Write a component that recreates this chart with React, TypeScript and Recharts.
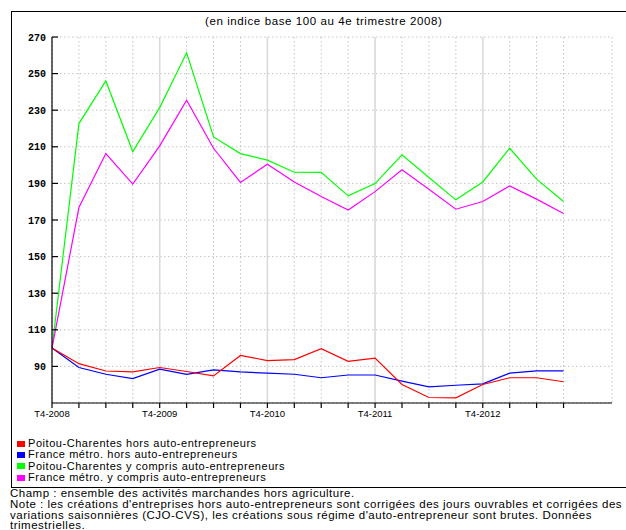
import React from 'react';
import {
  LineChart,
  Line,
  XAxis,
  YAxis,
  CartesianGrid,
  ReferenceLine,
} from 'recharts';

// trimestres T4-2008 .. T3-2013
const quarters = [
  'T4-2008', 'T1-2009', 'T2-2009', 'T3-2009',
  'T4-2009', 'T1-2010', 'T2-2010', 'T3-2010',
  'T4-2010', 'T1-2011', 'T2-2011', 'T3-2011',
  'T4-2011', 'T1-2012', 'T2-2012', 'T3-2012',
  'T4-2012', 'T1-2013', 'T2-2013', 'T3-2013',
];

const pcHors = [100, 91.5, 87.5, 87.0, 89.4, 87.2, 84.8, 96.0, 93.2, 93.7, 99.7, 92.8, 94.5, 80.1, 73.0, 72.8, 80.1, 83.8, 83.8, 81.6];
const frHors = [100, 89.4, 85.7, 83.3, 88.5, 85.7, 88.1, 87.0, 86.3, 85.7, 83.8, 85.3, 85.3, 82.0, 78.8, 79.7, 80.5, 86.3, 87.6, 87.6];
const pcAvec = [100, 222.7, 246.0, 207.4, 231.4, 261.4, 215.4, 206.3, 202.7, 196.1, 196.0, 183.2, 189.9, 205.6, 193.2, 181.0, 190.8, 209.2, 192.3, 180.1];
const frAvec = [100, 176.8, 206.3, 189.6, 210.5, 235.4, 209.2, 190.5, 200.5, 190.8, 182.8, 175.4, 185.5, 197.4, 186.8, 175.9, 180.1, 188.6, 181.4, 173.5];

const yTicks = [90, 110, 130, 150, 170, 190, 210, 230, 250, 270];
const yearTicks = [4, 8, 12, 16];

const seriesNames = [
  'Poitou-Charentes hors auto-entrepreneurs',
  'France métro. hors auto-entrepreneurs',
  'Poitou-Charentes y compris auto-entrepreneurs',
  'France métro. y compris auto-entrepreneurs',
];
const seriesColors = ['#ff0000', '#0000ff', '#00ff00', '#ff00ff'];

const data = quarters.map((q, i) => ({
  i,
  q,
  pcHors: pcHors[i],
  frHors: frHors[i],
  pcAvec: pcAvec[i],
  frAvec: frAvec[i],
}));

const PLOT_LEFT = 52;

const YTick = (props: any) => {
  const { y, payload } = props;
  return (
    <g>
      <line x1={PLOT_LEFT} x2={PLOT_LEFT + 6} y1={y} y2={y} stroke="#000" strokeWidth={1.2} />
      <text
        x={46}
        y={y}
        dy={3.5}
        textAnchor="end"
        fontFamily="'Liberation Mono', monospace"
        fontWeight="bold"
        fontSize={10}
        fill="#000"
      >
        {payload.value}
      </text>
    </g>
  );
};

const xLabel = (i: number) => (quarters[i] && quarters[i].startsWith('T4') ? quarters[i] : '');

const App: React.FC = () => {
  return (
    <div
      style={{
        position: 'absolute',
        left: 0,
        top: 0,
        width: 626,
        height: 530,
        overflow: 'hidden',
        background: '#fff',
        fontFamily: "'Liberation Sans', Arial, sans-serif",
        color: '#000',
      }}
    >
      <div
        style={{
          position: 'absolute',
          left: 11,
          top: 11,
          width: 640,
          height: 475,
          border: '1px solid #000',
        }}
      />
      <div
        style={{
          position: 'absolute',
          left: 205,
          top: 15,
          fontSize: 11.5,
          letterSpacing: 0.6,
          whiteSpace: 'nowrap',
        }}
      >
        (en indice base 100 au 4e trimestre 2008)
      </div>

      <div style={{ position: 'absolute', left: 0, top: 0 }}>
        <LineChart
          width={626}
          height={430}
          data={data}
          margin={{ top: 37, right: 14, bottom: 7, left: 12 }}
        >
          <CartesianGrid stroke="#c4c4c4" strokeDasharray="1.5 2.5" />
          {yearTicks.map((t) => (
            <ReferenceLine key={t} x={t} stroke="#dcdcdc" strokeWidth={1.6} />
          ))}
          <XAxis
            dataKey="i"
            type="number"
            domain={[0, 20.8]}
            ticks={quarters.map((_, i) => i)}
            interval={0}
            tickFormatter={xLabel}
            tickSize={5}
            tickMargin={2}
            height={20}
            axisLine={{ stroke: '#000', strokeWidth: 1.2 }}
            tickLine={{ stroke: '#000', strokeWidth: 1.2 }}
            tick={{ fontSize: 9.5, fill: '#000' }}
          />
          <YAxis
            type="number"
            domain={[70, 270]}
            ticks={yTicks}
            interval={0}
            width={40}
            axisLine={{ stroke: '#000', strokeWidth: 1.2 }}
            tickLine={false}
            tick={<YTick />}
          />
          <Line type="linear" dataKey="pcAvec" stroke={seriesColors[2]} strokeWidth={1.2} dot={false} isAnimationActive={false} />
          <Line type="linear" dataKey="frAvec" stroke={seriesColors[3]} strokeWidth={1.2} dot={false} isAnimationActive={false} />
          <Line type="linear" dataKey="frHors" stroke={seriesColors[1]} strokeWidth={1.2} dot={false} isAnimationActive={false} />
          <Line type="linear" dataKey="pcHors" stroke={seriesColors[0]} strokeWidth={1.2} dot={false} isAnimationActive={false} />
        </LineChart>
      </div>

      <div
        style={{
          position: 'absolute',
          left: 17,
          top: 438,
          fontSize: 11,
          letterSpacing: 0.55,
          lineHeight: '11.4px',
        }}
      >
        {seriesNames.map((name, k) => (
          <div key={name} style={{ display: 'flex', alignItems: 'center', whiteSpace: 'nowrap', height: 11.4 }}>
            <span
              style={{
                display: 'inline-block',
                width: 8,
                height: 6,
                background: seriesColors[k],
                marginRight: 3,
              }}
            />
            {name}
          </div>
        ))}
      </div>

      <div
        style={{
          position: 'absolute',
          left: 10,
          top: 488,
          width: 700,
          fontSize: 11.5,
          letterSpacing: 0.5,
          lineHeight: '10.8px',
          whiteSpace: 'nowrap',
        }}
      >
        <div>Champ : ensemble des activités marchandes hors agriculture.</div>
        <div>Note : les créations d'entreprises hors auto-entrepreneurs sont corrigées des jours ouvrables et corrigées des</div>
        <div>variations saisonnières (CJO-CVS), les créations sous régime d'auto-entrepreneur sont brutes. Données</div>
        <div>trimestrielles.</div>
      </div>
    </div>
  );
};

export default App;
